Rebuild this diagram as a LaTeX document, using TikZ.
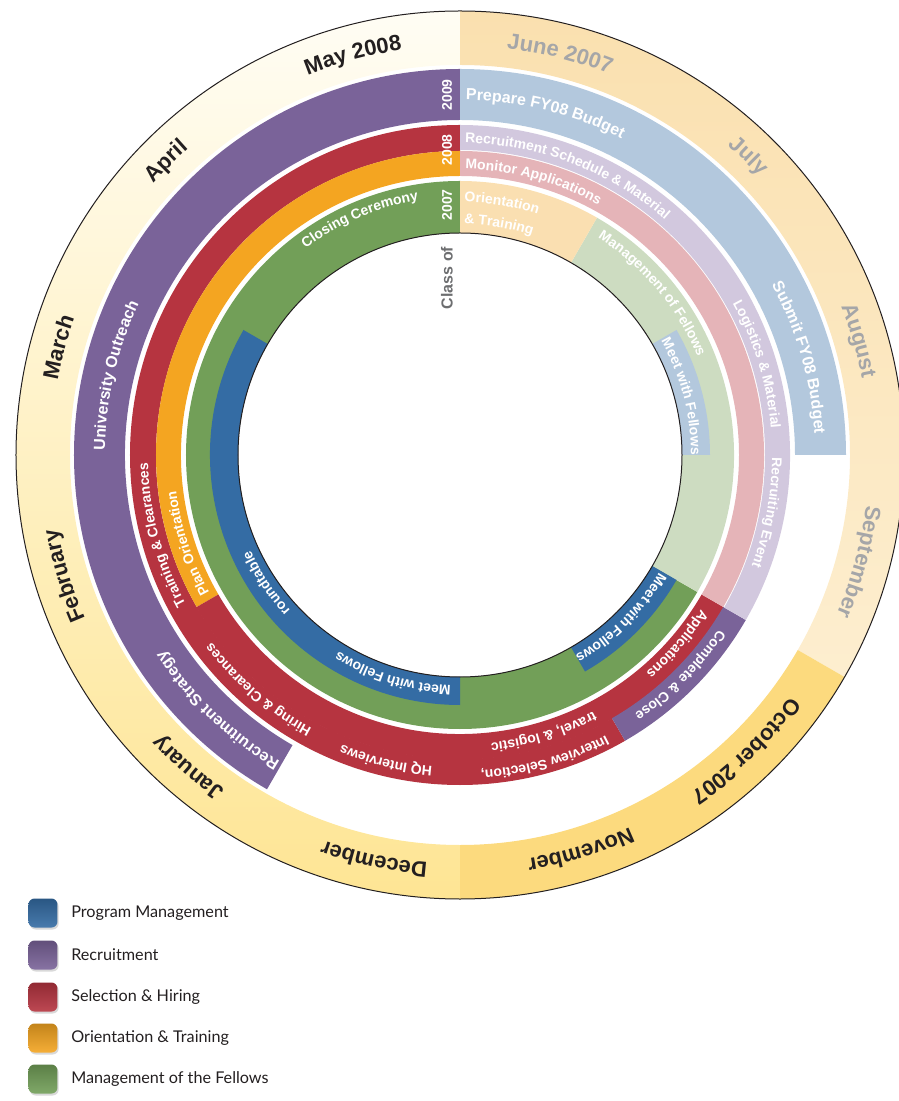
\documentclass[tikz,border=0pt]{standalone}
\usepackage{fontspec}
\setmainfont{Liberation Sans}
\newfontfamily\legendfont{Lato}
\usetikzlibrary{decorations.text,positioning,shadows}
\definecolor{monthtop}{HTML}{FFFDF4}
\definecolor{monthbot}{HTML}{FEE594}
\definecolor{juntop}{HTML}{FAE0AF}
\definecolor{sepbot}{HTML}{FDEECF}
\definecolor{octfill}{HTML}{FCDA7E}
\definecolor{cpurple}{HTML}{7A6399}
\definecolor{clightblue}{HTML}{B3C8DD}
\definecolor{cred}{HTML}{B63440}
\definecolor{clavender}{HTML}{D2C8DE}
\definecolor{cpink}{HTML}{E5B4B8}
\definecolor{corange}{HTML}{F4A521}
\definecolor{clightorange}{HTML}{FADFB1}
\definecolor{cgreen}{HTML}{729F58}
\definecolor{clightgreen}{HTML}{CDDCC1}
\definecolor{cblue}{HTML}{346CA4}
\definecolor{mgray}{HTML}{A5A6A8}
\definecolor{mblack}{HTML}{231F20}
\definecolor{classgray}{HTML}{6D6E70}
\def\ringseg[#1](#2:#3:#4:#5){\path[#1] (#2:#5) arc (#2:#3:#5) -- (#3:#4) arc (#3:#2:#4) -- cycle;}
\def\arctext[#1](#2:#3)#4{\path[decorate,decoration={text along path,text align=center,text={|#1|#4}}] ({#2+70}:#3) arc ({#2+70}:{#2-70}:#3);}
\def\arctextL[#1](#2:#3)#4{\path[decorate,decoration={text along path,text align=left,text={|#1|#4}}] (#2:#3) arc (#2:{#2-90}:#3);}
\def\mfont{\fontsize{11}{13}\selectfont\bfseries}
\def\afont{\fontsize{8}{9}\selectfont\bfseries\color{white}}
\def\bfont{\fontsize{7}{8}\selectfont\bfseries\color{white}}
\tikzset{
  yearlbl/.style={rotate=90, text=white, inner sep=0pt, font=\fontsize{7}{8}\selectfont\bfseries},
  classlbl/.style={rotate=90, text=classgray, inner sep=0pt, font=\fontsize{8}{9}\selectfont\bfseries},
  legbox/.style={minimum size=14.5pt, inner sep=0pt, rounded corners=3pt,
    drop shadow={shadow xshift=0.6pt, shadow yshift=-1pt, opacity=0.3}},
  legtext/.style={inner sep=0pt, text=mblack, font=\legendfont\fontsize{8.1}{10}\selectfont}
}

\begin{document}
\begin{tikzpicture}[x=0.5pt, y=0.5pt]
		%%%%% START %%%%%
		\useasboundingbox (-460,-646) rectangle (438,455);
		
		% months
		\ringseg[top color=monthtop, bottom color=monthbot](90:270:390:444)
		\ringseg[top color=juntop, bottom color=sepbot](-30:90:390:444)
		\ringseg[fill=octfill](-90:-30:390:444)
		
		% 2009
		\ringseg[fill=cpurple](90:240:335:386)
		\ringseg[fill=clightblue](0:90:335:386)
		
		% 2008
		\ringseg[fill=cred](90:300:304:330)
		\ringseg[fill=corange](90:210:279:304)
		\ringseg[fill=cred](210:330:279:304.5)
		\ringseg[fill=cpurple](300:330:304:330)
		\ringseg[fill=clavender](-30:90:305:330)
		\ringseg[fill=cpink](-30:90:279:304)
		
		% 2007
		\ringseg[fill=cgreen](90:330:222:274)
		\ringseg[fill=clightgreen](-30:60:222:274)
		\ringseg[fill=clightorange](60:90:222:274)
		\ringseg[fill=cblue](150:270:222:250)
		\ringseg[fill=cblue](300:330:222:250)
		\ringseg[fill=clightblue](0:30:222:250)
		
		\draw[line width=0.5pt, color=mblack] (0,0) circle[radius=444];
		\draw[line width=0.5pt, color=mblack] (0,0) circle[radius=222];
		
		\arctext[\mfont\color{mgray}](76:409){June 2007}
		\arctext[\mfont\color{mgray}](46:409){July}
		\arctext[\mfont\color{mgray}](16:409){August}
		\arctext[\mfont\color{mgray}](-15:409){September}
		\arctext[\mfont\color{mblack}](-46:409){October 2007}
		\arctext[\mfont\color{mblack}](-73:409){November}
		\arctext[\mfont\color{mblack}](-102:409){December}
		\arctext[\mfont\color{mblack}](-131:409){January}
		\arctext[\mfont\color{mblack}](-163:409){February}
		\arctext[\mfont\color{mblack}](165:409){March}
		\arctext[\mfont\color{mblack}](135:409){April}
		\arctext[\mfont\color{mblack}](105:409){May 2008}
		
		\arctext[\afont](76:355){Prepare FY08 Budget}
		\arctext[\afont](16:355){Submit FY08 Budget}
		\arctext[\afont](167:355){University Outreach}
		\arctext[\afont](-133.5:355){Recruitment Strategy}
		
		\arctext[\bfont](69:312){Recruitment Schedule {\&} Material}
		\arctext[\bfont](17:312){Logistics {\&} Material}
		\arctext[\bfont](-10.6:312){Recruiting Event}
		\arctext[\bfont](-45:312){Complete {\&} Close}
		\arctext[\bfont](-103.6:313){HQ Interviews}
		\arctext[\bfont](-130.7:311){Hiring {\&} Clearances}
		\arctext[\bfont](195:312){Training {\&} Clearances}
		\arctext[\bfont](75:286){Monitor Applications}
		\arctext[\bfont](-41:286){Applications}
		\arctext[\bfont](198:286){Plan Orientation}
		\arctextL[\bfont](-62.5:316){Interview Selection,}
		\arctextL[\bfont](-62.5:289.5){travel, {\&} logistic}
		
		\arctextL[\bfont](89:253){Orientation}
		\arctextL[\bfont](89:231){{\&} Training}
		\arctext[\bfont](113:258){Closing Ceremony}
		\arctext[\bfont](40:257){Management of Fellows}
		\arctext[\bfont](14.8:231){Meet with Fellows}
		\arctext[\bfont](-45.3:231){Meet with Fellows}
		\arctext[\bfont](-107:231){Meet with Fellows}
		\arctext[\bfont](-146.5:230){roundtable}
		
		\node[yearlbl] (yr09) at (-13,360) {2009};
		\node[yearlbl] (yr08) at (-13,305) {2008};
		\node[yearlbl] (yr07) at (-13,250) {2007};
		\node[classlbl] (classof) at (-13,177) {Class of};
		
		% legend
		\foreach \i/\lc/\ly/\lt in {1/cblue/-458/Program Management, 2/cpurple/-500/Recruitment,
		  3/cred/-542/Selection \& Hiring, 4/corange/-583/Orientation \& Training,
		  5/cgreen/-624/Management of the Fellows}{
		  \node[legbox, top color=\lc!80!black, bottom color=\lc!90!white] (leg\i) at (-417,\ly) {};
		  \node[legtext, right=6.5pt of leg\i] (legt\i) {\lt};
		}
		%%%%% END %%%%%
\end{tikzpicture}
\end{document}
